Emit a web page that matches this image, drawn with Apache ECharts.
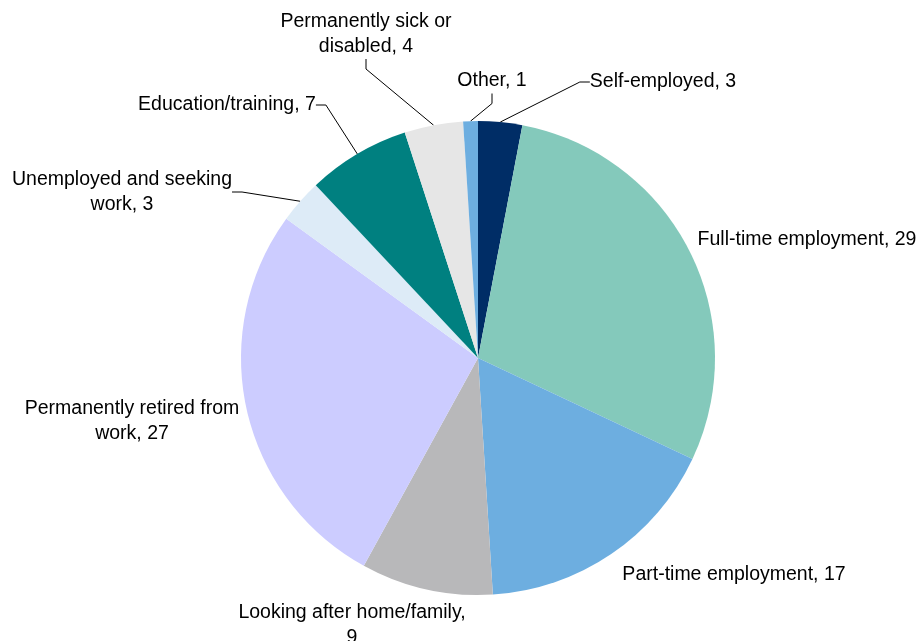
<!DOCTYPE html>
<html>
<head>
<meta charset="utf-8">
<script src="https://cdn.jsdelivr.net/npm/echarts@6/dist/echarts.min.js"></script>
<style>
  html, body { margin: 0; padding: 0; background: #fff; }
  #chart { width: 922px; height: 641px; }
</style>
</head>
<body>
<div id="chart"></div>
<script>
// Economic status categories, clockwise from 12 o'clock
const categories = [
  'Self-employed',
  'Full-time employment',
  'Part-time employment',
  'Looking after home/family',
  'Permanently retired from work',
  'Unemployed and seeking work',
  'Education/training',
  'Permanently sick or disabled',
  'Other'
];
const values = [3, 29, 17, 9, 27, 3, 7, 4, 1];
const labelTexts = [
  'Self-employed, 3',
  'Full-time employment, 29',
  'Part-time employment, 17',
  'Looking after home/family,\n9',
  'Permanently retired from\nwork, 27',
  'Unemployed and seeking\nwork, 3',
  'Education/training, 7',
  'Permanently sick or\ndisabled, 4',
  'Other, 1'
];
const colors = ['#002d66', '#84c9bb', '#6daee0', '#b8b8ba', '#ccccff', '#ddebf7', '#008080', '#e6e6e6', '#6daee0'];
const withLeader = [true, false, false, false, false, true, true, true, true];

// Label anchor positions (text centre) for each slice
const labelSpots = [
  { x: 663, y: 82 },
  { x: 807, y: 240 },
  { x: 734, y: 575 },
  { x: 352, y: 625 },
  { x: 132, y: 421 },
  { x: 122, y: 192 },
  { x: 227, y: 105 },
  { x: 366, y: 34 },
  { x: 492, y: 81 }
];

const chart = echarts.init(document.getElementById('chart'));
chart.setOption({
  animation: false,
  backgroundColor: '#ffffff',
  series: [{
    type: 'pie',
    center: [478, 358],
    radius: [0, 237],
    startAngle: 90,
    clockwise: true,
    avoidLabelOverlap: false,
    label: {
      show: true,
      position: 'outside',
      fontFamily: 'Liberation Sans, Arial, sans-serif',
      fontSize: 19.5,
      lineHeight: 25,
      color: '#000',
      align: 'center',
      formatter: p => labelTexts[p.dataIndex]
    },
    labelLine: {
      show: true,
      length: 10,
      length2: 10,
      lineStyle: { color: '#000', width: 1 }
    },
    labelLayout: p => {
      const s = labelSpots[p.dataIndex];
      return {
        x: s.x,
        y: s.y,
        align: 'center',
        verticalAlign: 'middle',
        hideOverlap: false
      };
    },
    data: categories.map((name, i) => ({
      name: name,
      value: values[i],
      itemStyle: { color: colors[i] },
      labelLine: { show: withLeader[i] }
    }))
  }]
});
</script>
</body>
</html>
